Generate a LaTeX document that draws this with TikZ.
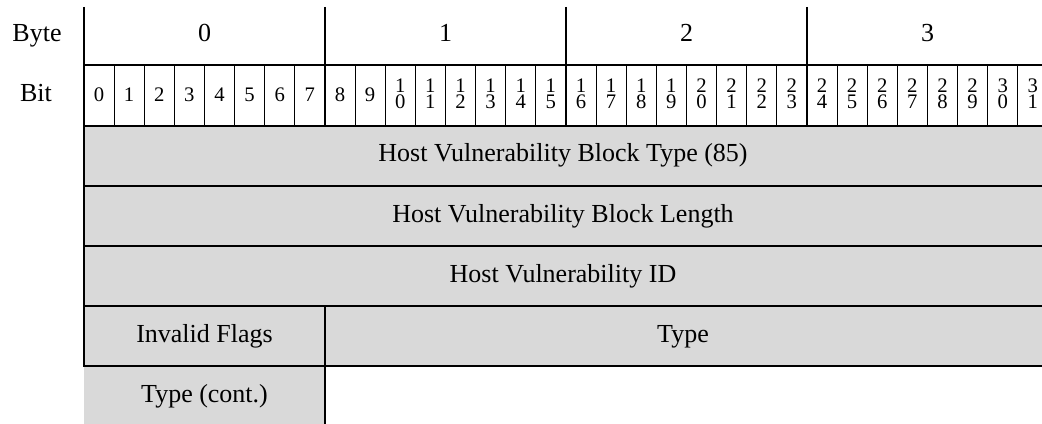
\documentclass[tikz,border=0pt]{standalone}
\usepackage{fontspec}
\setmainfont{Liberation Serif}
\usepackage{xcolor}
\usepackage{tikz}
\usetikzlibrary{positioning}
\definecolor{fieldgray}{RGB}{217,217,217}

\begin{document}
\begin{tikzpicture}[x=0.75pt, y=-0.75pt,
    hdrtext/.style={font=\fontsize{19.5}{22}\selectfont, inner sep=0pt, anchor=base},
    fieldtext/.style={font=\fontsize{19.5}{22}\selectfont, inner sep=0pt, anchor=base},
    bitnum/.style={font=\fontsize{15.5}{11}\selectfont, align=center, inner sep=0pt, anchor=center},
    heavy/.style={line width=1.5pt, black},
    light/.style={line width=0.75pt, black}]
\useasboundingbox (0,0) rectangle (1042,424);
\clip (0,0) rectangle (1042,424);

% shaded fields
\fill[fieldgray] (84,126) rectangle (1048,366);
\fill[fieldgray] (84,366) rectangle (325,430);

% row labels
\node[hdrtext] (bytelbl) at (37,42) {Byte};
\node[hdrtext] (bitlbl) at (36,102) {Bit};

% byte numbers
\foreach \k in {0,...,3}
  \node[hdrtext] (byte\k) at ({204.5+\k*241},42) {\k};

% bit numbers and thin separators
\foreach \i in {0,...,31} {
  \pgfmathtruncatemacro{\tens}{int(\i/10)}
  \pgfmathtruncatemacro{\ones}{mod(\i,10)}
  \ifnum\i<10
    \node[bitnum] (b\i) at ({99+\i*30.125},94.7) {\i};
  \else
    \node[bitnum] (b\i) at ({99+\i*30.125},93.5) {\tens\\[1pt]\ones};
  \fi
}
\foreach \i in {1,...,31}
  \draw[light] ({84+\i*30.125},65) -- ({84+\i*30.125},126);

% field labels
\node[fieldtext] (hvtype) at (563,162) {Host Vulnerability Block Type (85)};
\node[fieldtext] (hvlen) at (563,222) {Host Vulnerability Block Length};
\node[fieldtext] (hvid) at (563,282) {Host Vulnerability ID};
\node[fieldtext] (flags) at (204.5,342) {Invalid Flags};
\node[fieldtext] (vtype) at (683,342) {Type};
\node[fieldtext] (vtypecont) at (204.5,402) {Type (cont.)};

% heavy grid
\draw[heavy] (84,7) -- (84,366.75);
\foreach \k in {1,2,3}
  \draw[heavy] ({84+\k*241},7) -- ({84+\k*241},126);
\foreach \y in {65,126,186,246,306,366}
  \draw[heavy] (83.25,\y) -- (1048,\y);
\draw[heavy] (325,306) -- (325,430);
\end{tikzpicture}
\end{document}
